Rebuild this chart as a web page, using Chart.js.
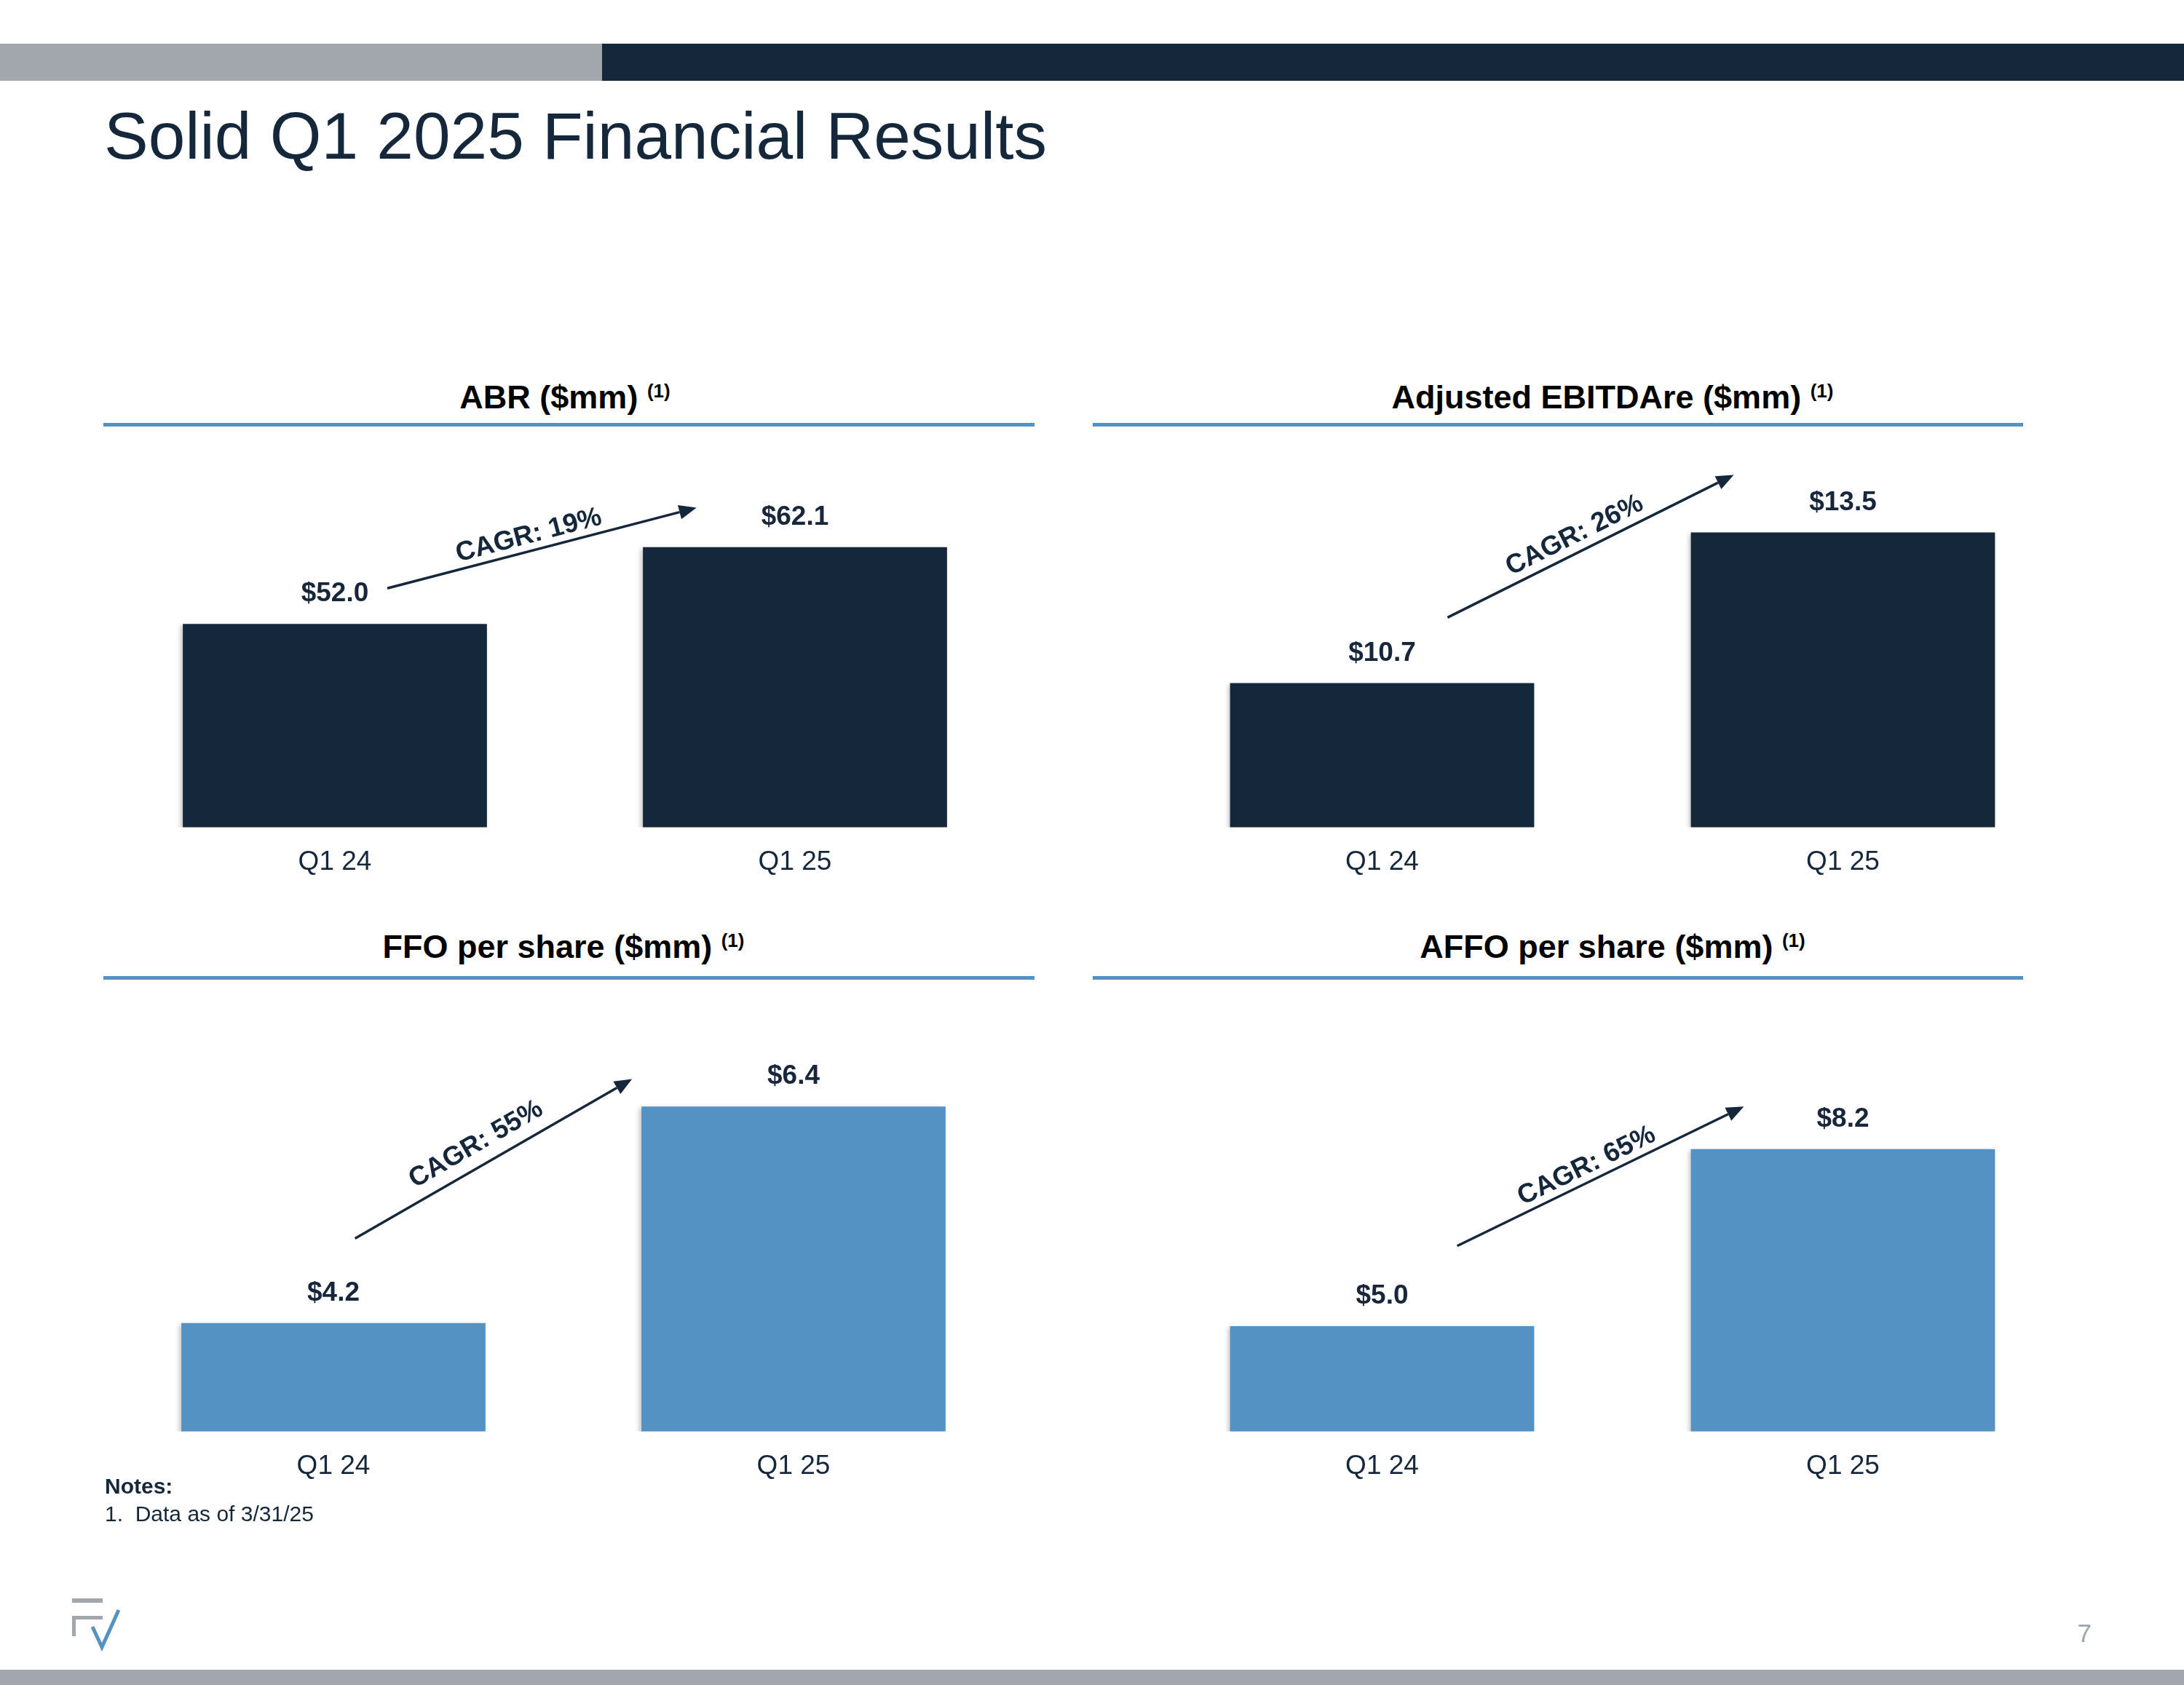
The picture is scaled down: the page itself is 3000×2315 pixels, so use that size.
<!DOCTYPE html>
<html>
<head>
    <title>Solid Q1 2025 Financial Results</title>
    <script src="https://cdn.jsdelivr.net/npm/chart.js"></script>
    <style>
        body {
            margin: 0;
            width: 3000px;
            height: 2315px;
            position: relative;
            overflow: hidden;
            background: #fff;
            font-family: 'Liberation Sans', Arial, sans-serif;
            color: #15273a;
        }

        .abs {
            position: absolute;
        }

        .panel-title {
            position: absolute;
            text-align: center;
            font-weight: bold;
            font-size: 45px;
            line-height: 45px;
            color: #000;
            white-space: nowrap;
        }

        .panel-title .sup {
            font-size: 26px;
            font-weight: bold;
            position: relative;
            top: -15px;
        }

        .rule {
            position: absolute;
            height: 5px;
            background: #5592c4;
        }

        canvas {
            position: absolute;
        }
    </style>
</head>

<body>
    <!-- header strip -->
    <div class="abs" style="left:0;top:60px;width:827px;height:51px;background:#a2a6ad;"></div>
    <div class="abs" style="left:827px;top:60px;width:2173px;height:51px;background:#15273a;"></div>

    <div class="abs" style="left:143px;top:141px;font-size:91px;line-height:91px;white-space:nowrap;">Solid Q1 2025 Financial Results</div>

    <!-- panel headings -->
    <div class="panel-title" style="left:144px;top:523px;width:1264px;">ABR ($mm) <span class="sup">(1)</span></div>
    <div class="panel-title" style="left:1582px;top:523px;width:1266px;">Adjusted EBITDAre ($mm) <span class="sup">(1)</span></div>
    <div class="panel-title" style="left:142px;top:1278px;width:1264px;">FFO per share ($mm) <span class="sup">(1)</span></div>
    <div class="panel-title" style="left:1582px;top:1278px;width:1266px;">AFFO per share ($mm) <span class="sup">(1)</span></div>

    <div class="rule" style="left:142px;top:581px;width:1279px;"></div>
    <div class="rule" style="left:1501px;top:581px;width:1278px;"></div>
    <div class="rule" style="left:142px;top:1341px;width:1279px;"></div>
    <div class="rule" style="left:1501px;top:1341px;width:1278px;"></div>

    <canvas id="abrChart" width="1264" height="669" style="left:144px;top:574px;"></canvas>
    <canvas id="ebitdaChart" width="1266" height="669" style="left:1582px;top:574px;"></canvas>
    <canvas id="ffoChart" width="1264" height="669" style="left:142px;top:1404px;"></canvas>
    <canvas id="affoChart" width="1266" height="669" style="left:1582px;top:1404px;"></canvas>

    <!-- notes -->
    <div class="abs" style="left:144px;top:2027px;font-size:30px;line-height:30px;font-weight:bold;">Notes:</div>
    <div class="abs" style="left:144px;top:2065px;font-size:30px;line-height:30px;white-space:pre;">1.  Data as of 3/31/25</div>

    <!-- logo -->
    <div class="abs" style="left:99px;top:2196px;width:42px;height:6px;background:#a2a6ad;"></div>
    <div class="abs" style="left:99px;top:2220px;width:42px;height:5px;background:#a2a6ad;"></div>
    <div class="abs" style="left:99px;top:2220px;width:5px;height:28px;background:#a2a6ad;"></div>
    <svg class="abs" style="left:0;top:2150px;" width="200" height="140">
        <polyline points="127,85 140,113 163,62" fill="none" stroke="#5592c4" stroke-width="5" stroke-linejoin="miter" />
    </svg>

    <div class="abs" style="right:127px;top:2226px;font-size:35px;line-height:35px;color:#a2a6ad;">7</div>

    <div class="abs" style="left:0;top:2294px;width:3000px;height:21px;background:#a2a6ad;"></div>

    <script>
        // values
        const periods = ['Q1 24', 'Q1 25'];
        const abrValues = [52.0, 62.1];
        const ebitdaValues = [10.7, 13.5];
        const ffoValues = [4.2, 6.4];
        const affoValues = [5.0, 8.2];
        const cagrLabels = ['CAGR: 19%', 'CAGR: 26%', 'CAGR: 55%', 'CAGR: 65%'];

        const navy = '#15273b';
        const steel = '#5592c4';
        const fontFamily = "'Liberation Sans', Arial, sans-serif";

        // value labels, shadow and the CAGR arrow
        const barExtras = {
            id: 'barExtras',
            beforeDatasetsDraw(chart) {
                const ctx = chart.ctx;
                ctx.save();
                ctx.shadowColor = 'rgba(0,0,0,0.22)';
                ctx.shadowBlur = 6;
                ctx.shadowOffsetX = -3;
                ctx.shadowOffsetY = 2;
            },
            afterDatasetsDraw(chart, args, opts) {
                const ctx = chart.ctx;
                ctx.restore();

                const values = chart.data.datasets[0].data;
                ctx.save();
                ctx.font = 'bold 37px ' + fontFamily;
                ctx.fillStyle = '#17263a';
                ctx.textAlign = 'center';
                ctx.textBaseline = 'alphabetic';
                chart.getDatasetMeta(0).data.forEach((bar, i) => {
                    ctx.fillText('$' + values[i].toFixed(1), bar.x, bar.y - 31);
                });

                // arrow, anchored in axis units
                const xs = chart.scales.x, ys = chart.scales.y;
                const x1 = xs.getPixelForValue(opts.from[0]), y1 = ys.getPixelForValue(opts.from[1]);
                const x2 = xs.getPixelForValue(opts.to[0]), y2 = ys.getPixelForValue(opts.to[1]);
                const dx = x2 - x1, dy = y2 - y1;
                const len = Math.hypot(dx, dy);
                const ux = dx / len, uy = dy / len;
                const head = 24, half = 10;

                ctx.strokeStyle = navy;
                ctx.fillStyle = navy;
                ctx.lineWidth = 3.5;
                ctx.beginPath();
                ctx.moveTo(x1, y1);
                ctx.lineTo(x2 - ux * head, y2 - uy * head);
                ctx.stroke();
                ctx.beginPath();
                ctx.moveTo(x2, y2);
                ctx.lineTo(x2 - ux * head - uy * half, y2 - uy * head + ux * half);
                ctx.lineTo(x2 - ux * head + uy * half, y2 - uy * head - ux * half);
                ctx.closePath();
                ctx.fill();

                // label along the arrow
                const mx = x1 + dx * opts.t + uy * opts.offset;
                const my = y1 + dy * opts.t - ux * opts.offset;
                ctx.translate(mx, my);
                ctx.rotate(Math.atan2(dy, dx));
                ctx.font = 'bold 37px ' + fontFamily;
                ctx.textBaseline = 'middle';
                ctx.fillText(opts.label, 0, 0);
                ctx.restore();
            }
        };

        const makeChart = (id, values, color, yMin, yMax, barPct, arrow) => {
            const ctx = document.getElementById(id).getContext('2d');
            return new Chart(ctx, {
                type: 'bar',
                data: {
                    labels: periods,
                    datasets: [{
                        data: values,
                        backgroundColor: color,
                        borderWidth: 0,
                        barPercentage: barPct,
                        categoryPercentage: 1
                    }]
                },
                options: {
                    responsive: false,
                    animation: false,
                    layout: { padding: { top: 0, bottom: 10, left: 0, right: 0 } },
                    plugins: {
                        legend: { display: false },
                        tooltip: { enabled: false },
                        barExtras: arrow
                    },
                    scales: {
                        x: {
                            grid: { display: false, drawTicks: false },
                            border: { display: false },
                            ticks: {
                                color: navy,
                                padding: 26,
                                font: { size: 37, family: fontFamily }
                            }
                        },
                        y: {
                            display: false,
                            min: yMin,
                            max: yMax
                        }
                    }
                },
                plugins: [barExtras]
            });
        };

        makeChart('abrChart', abrValues, navy, 25.26, 79.13, 0.661,
            { label: cagrLabels[0], from: [0.114, 56.7], to: [0.786, 67.3], t: 0.47, offset: 21 });
        makeChart('ebitdaChart', ebitdaValues, navy, 8.022, 15.63, 0.660,
            { label: cagrLabels[1], from: [0.142, 11.92], to: [0.763, 14.57], t: 0.47, offset: 23 });
        makeChart('ffoChart', ffoValues, steel, 3.10, 7.26, 0.661,
            { label: cagrLabels[2], from: [0.047, 5.06], to: [0.649, 6.68], t: 0.475, offset: 29 });
        makeChart('affoChart', affoValues, steel, 3.096, 10.50, 0.660,
            { label: cagrLabels[3], from: [0.163, 6.45], to: [0.785, 8.97], t: 0.475, offset: 21 });
    </script>
</body>

</html>
